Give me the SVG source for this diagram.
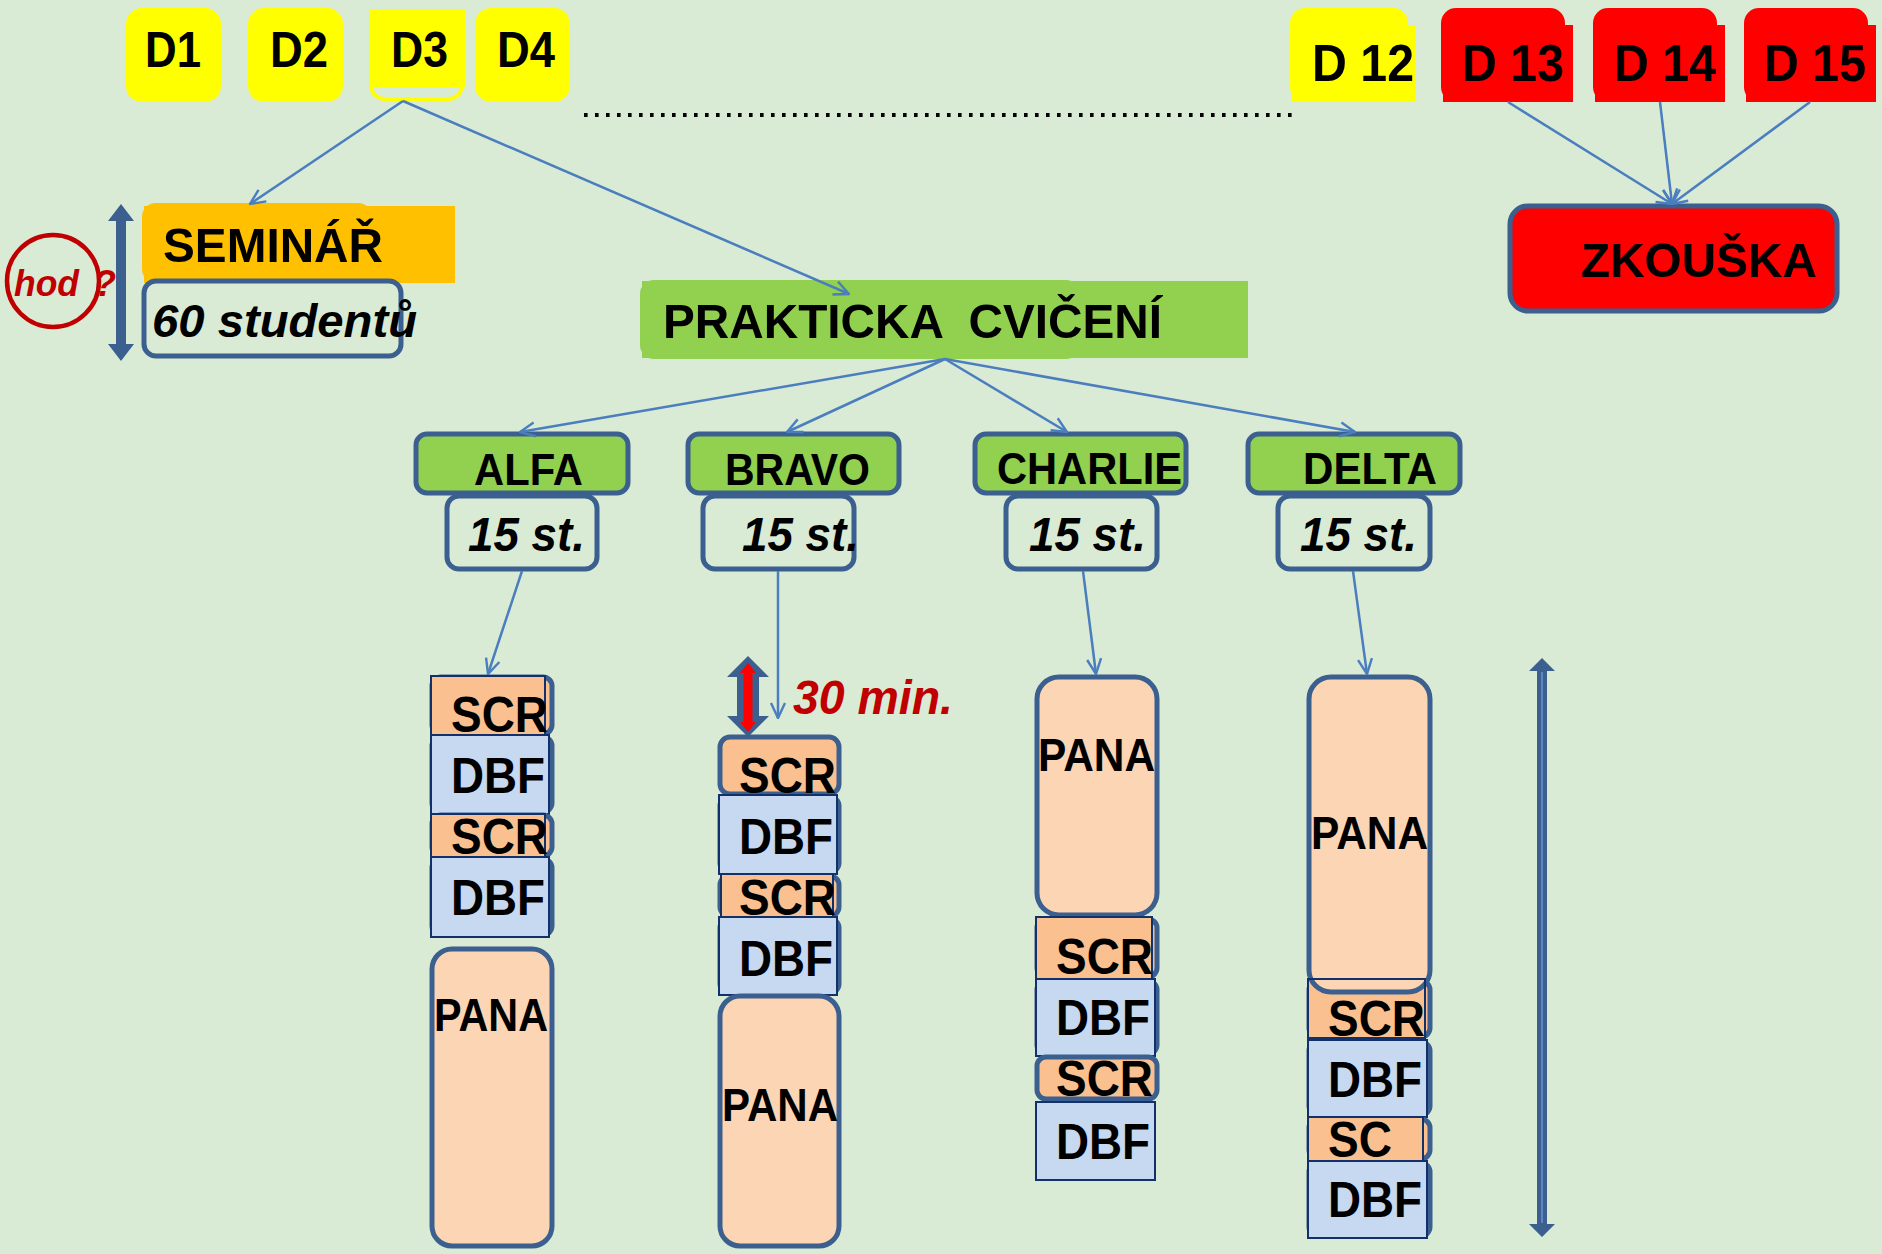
<svg xmlns="http://www.w3.org/2000/svg" width="1882" height="1254" viewBox="0 0 1882 1254">
<defs>
<style>
text{font-family:"Liberation Sans",Arial,sans-serif;font-weight:bold;fill:#000}
.it{font-style:italic}
.red{fill:#C00000}
.ol{stroke:#3B5F8F;stroke-width:5}
.thin{stroke:#12306A;stroke-width:2}
.scr{fill:#FAC090}
.dbf{fill:#C6D9F1}
.pana{fill:#FCD5B4}
.grn{fill:#92D050}
.con{fill:none;stroke:#4A7EBF;stroke-width:2.5;marker-end:url(#ah)}
</style>
<marker id="ah" viewBox="0 0 18 18" refX="17" refY="9" markerWidth="18" markerHeight="18" markerUnits="userSpaceOnUse" orient="auto"><path d="M2,2 L17,9 L2,16" fill="none" stroke="#4A7EBF" stroke-width="2.4"/></marker>
</defs>
<rect width="1882" height="1254" fill="#DAEBD5"/>

<!-- top day boxes -->
<g id="d1"><rect x="126" y="8" width="95" height="94" rx="16" fill="#FFFF00"/><text x="145" y="67" font-size="50" textLength="56" lengthAdjust="spacingAndGlyphs">D1</text></g>
<g id="d2"><rect x="248" y="8" width="95" height="94" rx="16" fill="#FFFF00"/><text x="270" y="67" font-size="50" textLength="58" lengthAdjust="spacingAndGlyphs">D2</text></g>
<g id="d3"><rect x="371" y="11" width="91" height="88" rx="14" fill="none" stroke="#FFFF00" stroke-width="4"/><rect x="369" y="9" width="96" height="78" fill="#FFFF00"/><text x="391" y="67" font-size="50" textLength="57" lengthAdjust="spacingAndGlyphs">D3</text></g>
<g id="d4"><rect x="475" y="8" width="95" height="94" rx="16" fill="#FFFF00"/><text x="497" y="67" font-size="50" textLength="58" lengthAdjust="spacingAndGlyphs">D4</text></g>

<g id="dots"><line x1="584" y1="115" x2="1296" y2="115" stroke="#000" stroke-width="4" stroke-dasharray="3.6 7.4"/></g>

<g id="d12"><rect x="1290" y="8" width="118" height="94" rx="15" fill="#FFFF00"/><rect x="1292" y="25" width="124" height="77" fill="#FFFF00"/><text x="1312" y="81" font-size="52" textLength="102" lengthAdjust="spacingAndGlyphs">D 12</text></g>
<g id="d13"><rect x="1441" y="8" width="124" height="94" rx="15" fill="#FF0000"/><rect x="1443" y="25" width="130" height="77" fill="#FF0000"/><text x="1462" y="81" font-size="52" textLength="102" lengthAdjust="spacingAndGlyphs">D 13</text></g>
<g id="d14"><rect x="1593" y="8" width="124" height="94" rx="15" fill="#FF0000"/><rect x="1595" y="25" width="130" height="77" fill="#FF0000"/><text x="1614" y="81" font-size="52" textLength="102" lengthAdjust="spacingAndGlyphs">D 14</text></g>
<g id="d15"><rect x="1744" y="8" width="124" height="94" rx="15" fill="#FF0000"/><rect x="1746" y="25" width="130" height="77" fill="#FF0000"/><text x="1764" y="81" font-size="52" textLength="102" lengthAdjust="spacingAndGlyphs">D 15</text></g>

<!-- seminar -->
<g id="hod"><circle cx="53" cy="281" r="46" fill="none" stroke="#C00000" stroke-width="4.5"/><text class="it red" x="14" y="296" font-size="36" textLength="65" lengthAdjust="spacingAndGlyphs">hod</text><text class="it red" x="94" y="296" font-size="36">?</text></g>
<g id="hours-arrow"><polygon points="121,204 134,221 126,221 126,344 134,344 121,361 108,344 116,344 116,221 108,221" fill="#3B5F8F"/></g>
<g id="seminar"><rect x="142" y="203" width="230" height="80" rx="14" fill="#FFC000"/><rect x="144" y="206" width="311" height="77" fill="#FFC000"/><text x="163" y="262" font-size="49" textLength="220" lengthAdjust="spacingAndGlyphs">SEMINÁŘ</text></g>
<g id="students60"><rect x="144" y="281" width="257" height="75" rx="12" fill="none" class="ol"/><text class="it" x="152" y="337" font-size="47" textLength="265" lengthAdjust="spacingAndGlyphs">60 studentů</text></g>

<!-- practice -->
<g id="prakticka"><rect x="640" y="280" width="440" height="79" rx="14" class="grn"/><rect x="642" y="281" width="606" height="77" class="grn"/><text x="663" y="338" font-size="49" xml:space="preserve" textLength="499" lengthAdjust="spacingAndGlyphs">PRAKTICKA  CVIČENÍ</text></g>

<g id="zkouska"><rect x="1510" y="206" width="327" height="105" rx="18" fill="#FF0000" class="ol"/><text x="1581" y="277" font-size="49" textLength="236" lengthAdjust="spacingAndGlyphs">ZKOUŠKA</text></g>

<!-- groups -->
<g id="alfa"><rect x="416" y="434" width="212" height="59" rx="11" class="grn ol"/><text x="474" y="485" font-size="44" textLength="109" lengthAdjust="spacingAndGlyphs">ALFA</text>
<rect x="447" y="496" width="150" height="73" rx="12" fill="none" class="ol"/><text class="it" x="468" y="551" font-size="48" textLength="117" lengthAdjust="spacingAndGlyphs">15 st.</text></g>
<g id="bravo"><rect x="688" y="434" width="211" height="59" rx="11" class="grn ol"/><text x="725" y="485" font-size="44" textLength="145" lengthAdjust="spacingAndGlyphs">BRAVO</text>
<rect x="703" y="496" width="151" height="73" rx="12" fill="none" class="ol"/><text class="it" x="742" y="551" font-size="48" textLength="117" lengthAdjust="spacingAndGlyphs">15 st.</text></g>
<g id="charlie"><rect x="975" y="434" width="211" height="59" rx="11" class="grn ol"/><text x="997" y="484" font-size="44" textLength="185" lengthAdjust="spacingAndGlyphs">CHARLIE</text>
<rect x="1006" y="496" width="151" height="73" rx="12" fill="none" class="ol"/><text class="it" x="1029" y="551" font-size="48" textLength="117" lengthAdjust="spacingAndGlyphs">15 st.</text></g>
<g id="delta"><rect x="1248" y="434" width="212" height="59" rx="11" class="grn ol"/><text x="1303" y="484" font-size="44" textLength="134" lengthAdjust="spacingAndGlyphs">DELTA</text>
<rect x="1278" y="496" width="152" height="73" rx="12" fill="none" class="ol"/><text class="it" x="1300" y="551" font-size="48" textLength="117" lengthAdjust="spacingAndGlyphs">15 st.</text></g>

<!-- ALFA column -->
<g id="alfa-col">
<rect x="432" y="677" width="120" height="57" rx="9" class="scr ol" stroke-width="4"/><rect x="431" y="676" width="114" height="59" class="scr thin"/><text x="451" y="732" font-size="50" textLength="97" lengthAdjust="spacingAndGlyphs">SCR</text>
<rect x="432" y="737" width="120" height="75" rx="9" class="dbf ol" stroke-width="4"/><rect x="431" y="735" width="118" height="79" class="dbf thin"/><text x="451" y="793" font-size="50" textLength="94" lengthAdjust="spacingAndGlyphs">DBF</text>
<rect x="432" y="815" width="120" height="41" rx="9" class="scr ol" stroke-width="4"/><rect x="431" y="814" width="114" height="43" class="scr thin"/><text x="451" y="854" font-size="50" textLength="97" lengthAdjust="spacingAndGlyphs">SCR</text>
<rect x="432" y="859" width="120" height="76" rx="9" class="dbf ol" stroke-width="4"/><rect x="431" y="857" width="118" height="80" class="dbf thin"/><text x="451" y="915" font-size="50" textLength="94" lengthAdjust="spacingAndGlyphs">DBF</text>
<rect x="432" y="949" width="120" height="297" rx="20" class="pana ol"/><text x="434" y="1031" font-size="47" textLength="114" lengthAdjust="spacingAndGlyphs">PANA</text>
</g>

<!-- BRAVO column -->
<g id="bravo-col">
<rect x="720" y="737" width="119" height="57" rx="10" class="scr ol"/><text x="739" y="793" font-size="50" textLength="97" lengthAdjust="spacingAndGlyphs">SCR</text>
<rect x="720" y="797" width="119" height="75" rx="9" class="dbf ol" stroke-width="4"/><rect x="719" y="795" width="118" height="79" class="dbf thin"/><text x="739" y="854" font-size="50" textLength="94" lengthAdjust="spacingAndGlyphs">DBF</text>
<rect x="720" y="876" width="119" height="40" rx="9" class="scr ol" stroke-width="4"/><rect x="721" y="874" width="112" height="43" class="scr thin"/><text x="739" y="915" font-size="50" textLength="97" lengthAdjust="spacingAndGlyphs">SCR</text>
<rect x="720" y="919" width="119" height="74" rx="9" class="dbf ol" stroke-width="4"/><rect x="719" y="917" width="118" height="78" class="dbf thin"/><text x="739" y="976" font-size="50" textLength="94" lengthAdjust="spacingAndGlyphs">DBF</text>
<rect x="720" y="996" width="119" height="250" rx="20" class="pana ol"/><text x="722" y="1121" font-size="47" textLength="116" lengthAdjust="spacingAndGlyphs">PANA</text>
</g>

<g id="thirty-min">
<polygon points="748,656 769,677 759,677 759,716 769,716 748,737 727,716 737,716 737,677 727,677" fill="#3B5F8F"/>
<polygon points="748,663 756,673 752.5,673 752.5,722 756,722 748,732 740,722 743.5,722 743.5,673 740,673" fill="#FF0000"/>
<text class="it red" x="793" y="714" font-size="48" textLength="160" lengthAdjust="spacingAndGlyphs">30 min.</text>
</g>

<!-- CHARLIE column -->
<g id="charlie-col">
<rect x="1037" y="677" width="120" height="238" rx="22" class="pana ol"/><text x="1038" y="771" font-size="47" textLength="117" lengthAdjust="spacingAndGlyphs">PANA</text>
<rect x="1037" y="919" width="120" height="58" rx="9" class="scr ol" stroke-width="4"/><rect x="1036" y="917" width="116" height="62" class="scr thin"/><text x="1056" y="974" font-size="50" textLength="97" lengthAdjust="spacingAndGlyphs">SCR</text>
<rect x="1037" y="981" width="120" height="73" rx="9" class="dbf ol" stroke-width="4"/><rect x="1036" y="979" width="119" height="77" class="dbf thin"/><text x="1056" y="1035" font-size="50" textLength="94" lengthAdjust="spacingAndGlyphs">DBF</text>
<rect x="1037" y="1057" width="120" height="42" rx="9" class="scr ol" stroke-width="4"/><text x="1056" y="1096" font-size="50" textLength="97" lengthAdjust="spacingAndGlyphs">SCR</text>
<rect x="1036" y="1102" width="119" height="78" class="dbf thin"/><text x="1056" y="1159" font-size="50" textLength="94" lengthAdjust="spacingAndGlyphs">DBF</text>
</g>

<!-- DELTA column -->
<g id="delta-col">
<rect x="1309" y="981" width="121" height="56" rx="9" class="scr ol" stroke-width="4"/><rect x="1308" y="979" width="117" height="59" class="scr"/>
<rect x="1309" y="677" width="121" height="315" rx="22" class="pana ol"/>
<rect x="1308" y="979" width="117" height="59" fill="none" class="thin"/>
<text x="1328" y="1036" font-size="50" textLength="97" lengthAdjust="spacingAndGlyphs">SCR</text>
<text x="1311" y="849" font-size="47" textLength="117" lengthAdjust="spacingAndGlyphs">PANA</text>
<rect x="1309" y="1042" width="121" height="73" rx="9" class="dbf ol" stroke-width="4"/><rect x="1308" y="1040" width="119" height="77" class="dbf thin"/><text x="1328" y="1097" font-size="50" textLength="94" lengthAdjust="spacingAndGlyphs">DBF</text>
<rect x="1309" y="1119" width="121" height="40" rx="9" class="scr ol" stroke-width="4"/><rect x="1308" y="1117" width="115" height="44" class="scr thin"/><text x="1328" y="1157" font-size="50" textLength="64" lengthAdjust="spacingAndGlyphs">SC</text>
<rect x="1309" y="1163" width="121" height="73" rx="9" class="dbf ol" stroke-width="4"/><rect x="1308" y="1161" width="119" height="77" class="dbf thin"/><text x="1328" y="1217" font-size="50" textLength="94" lengthAdjust="spacingAndGlyphs">DBF</text>
</g>

<g id="time-arrow"><polygon points="1542,658 1555,671 1547,671 1547,1224 1555,1224 1542,1237 1529,1224 1537,1224 1537,671 1529,671" fill="#3B5F8F"/><line x1="1542" y1="672" x2="1542" y2="1223" stroke="#5B87C2" stroke-width="2"/></g>

<g id="connectors">
<line class="con" x1="403" y1="101" x2="250" y2="204"/>
<line class="con" x1="403" y1="101" x2="849" y2="294"/>
<line class="con" x1="1508" y1="102" x2="1672" y2="204"/>
<line class="con" x1="1660" y1="102" x2="1672" y2="204"/>
<line class="con" x1="1810" y1="102" x2="1672" y2="204"/>
<line class="con" x1="945" y1="359" x2="520" y2="432"/>
<line class="con" x1="945" y1="359" x2="787" y2="432"/>
<line class="con" x1="945" y1="359" x2="1067" y2="432"/>
<line class="con" x1="945" y1="359" x2="1355" y2="432"/>
<line class="con" x1="522" y1="571" x2="488" y2="674"/>
<line class="con" x1="778" y1="571" x2="778" y2="718"/>
<line class="con" x1="1083" y1="571" x2="1096" y2="674"/>
<line class="con" x1="1353" y1="571" x2="1367" y2="674"/>
</g>
</svg>
